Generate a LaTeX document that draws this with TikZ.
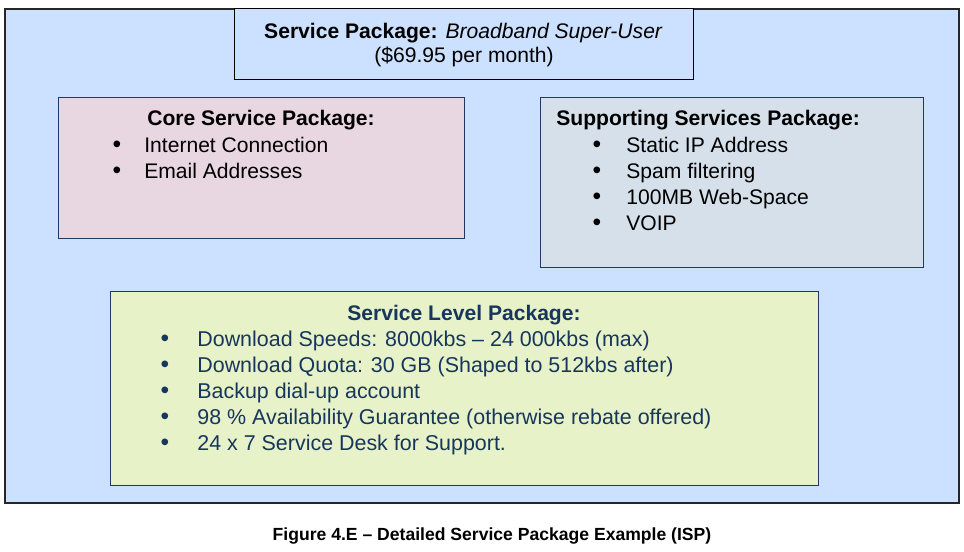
\documentclass[tikz,border=0pt]{standalone}
\usepackage{fontspec}
\setmainfont{Liberation Sans}
\definecolor{pkgblue}{RGB}{204,224,255}
\definecolor{pkgpink}{RGB}{232,214,224}
\definecolor{pkggrey}{RGB}{214,224,234}
\definecolor{pkglime}{RGB}{232,242,200}
\definecolor{pkgnavy}{RGB}{31,56,100}
\definecolor{pkgtext}{RGB}{23,54,93}
\usetikzlibrary{positioning}

\begin{document}
\begin{tikzpicture}[
  pkgbox/.style={draw=pkgnavy, line width=0.6pt, anchor=north west, inner sep=0pt},
  boxtext/.style={font=\fontsize{12}{14.7}\selectfont, inner sep=0pt},
  titletext/.style={font=\fontsize{12}{14.7}\selectfont\bfseries, inner sep=0pt},
  bulletmark/.style={font=\fontsize{14}{14.7}\selectfont, inner sep=0pt, anchor=base},
  itemtext/.style={boxtext, anchor=base west}
]
  \useasboundingbox (0,0) rectangle (19.28,11.04);

  %--- Outer package ---
  \node[draw=black!85, line width=1pt, fill=pkgblue, anchor=north west, inner sep=0pt, minimum width=19.08cm, minimum height=9.88cm] (outer) at (0.08,10.88) {};

  \node[draw=black, line width=0.7pt, fill=pkgblue, anchor=north west, inner sep=0pt, minimum width=9.18cm, minimum height=1.42cm] (top) at (4.68,10.88) {};
  \node[boxtext, anchor=base] (topname) at (9.27,10.27) {\textbf{Service Package:} \textit{Broadband Super-User}};
  \node[boxtext, anchor=base] (topprice) at (9.28,9.79) {(\$69.95 per month)};

  %--- Core services ---
  \node[pkgbox, fill=pkgpink, minimum width=8.12cm, minimum height=2.82cm] (core) at (1.16,9.10) {};
  \node[titletext, anchor=base] (coretitle) at (5.22,8.52) {Core Service Package:};
  \foreach \txt [count=\i] in {Internet Connection, Email Addresses} {
    \node[bulletmark] (corebul\i) at (2.34,8.50-0.52*\i) {\textbullet};
    \node[itemtext] (coreitem\i) at (2.88,8.50-0.52*\i) {\txt};
  }

  %--- Supporting services ---
  \node[pkgbox, fill=pkggrey, minimum width=7.66cm, minimum height=3.40cm] (supp) at (10.80,9.10) {};
  \node[titletext, anchor=base west] (supptitle) at (11.12,8.52) {Supporting Services Package:};
  \foreach \txt [count=\i] in {Static IP Address, Spam filtering, 100MB Web-Space, VOIP} {
    \node[bulletmark] (suppbul\i) at (11.94,8.50-0.52*\i) {\textbullet};
    \node[itemtext] (suppitem\i) at (12.52,8.50-0.52*\i) {\txt};
  }

  %--- Service level ---
  \node[pkgbox, fill=pkglime, minimum width=14.16cm, minimum height=3.88cm] (level) at (2.20,5.22) {};
  \node[titletext, anchor=base, text=pkgtext] (leveltitle) at (9.28,4.62) {Service Level Package:};
  \foreach \txt [count=\i] in {Download Speeds: 8000kbs -- 24 000kbs (max), Download Quota: 30 GB (Shaped to 512kbs after), Backup dial-up account, 98 \% Availability Guarantee (otherwise rebate offered), 24 x 7 Service Desk for Support.} {
    \node[bulletmark, text=pkgtext] (levelbul\i) at (3.30,4.62-0.52*\i) {\textbullet};
    \node[itemtext, text=pkgtext, font=\fontsize{12.2}{14.7}\selectfont] (levelitem\i) at (3.94,4.62-0.52*\i) {\txt};
  }

  % Caption
  \node[font=\fontsize{10}{12}\selectfont\bfseries, inner sep=0pt, anchor=base] (caption) at (9.84,0.22) {Figure 4.E -- Detailed Service Package Example (ISP)};
\end{tikzpicture}
\end{document}
